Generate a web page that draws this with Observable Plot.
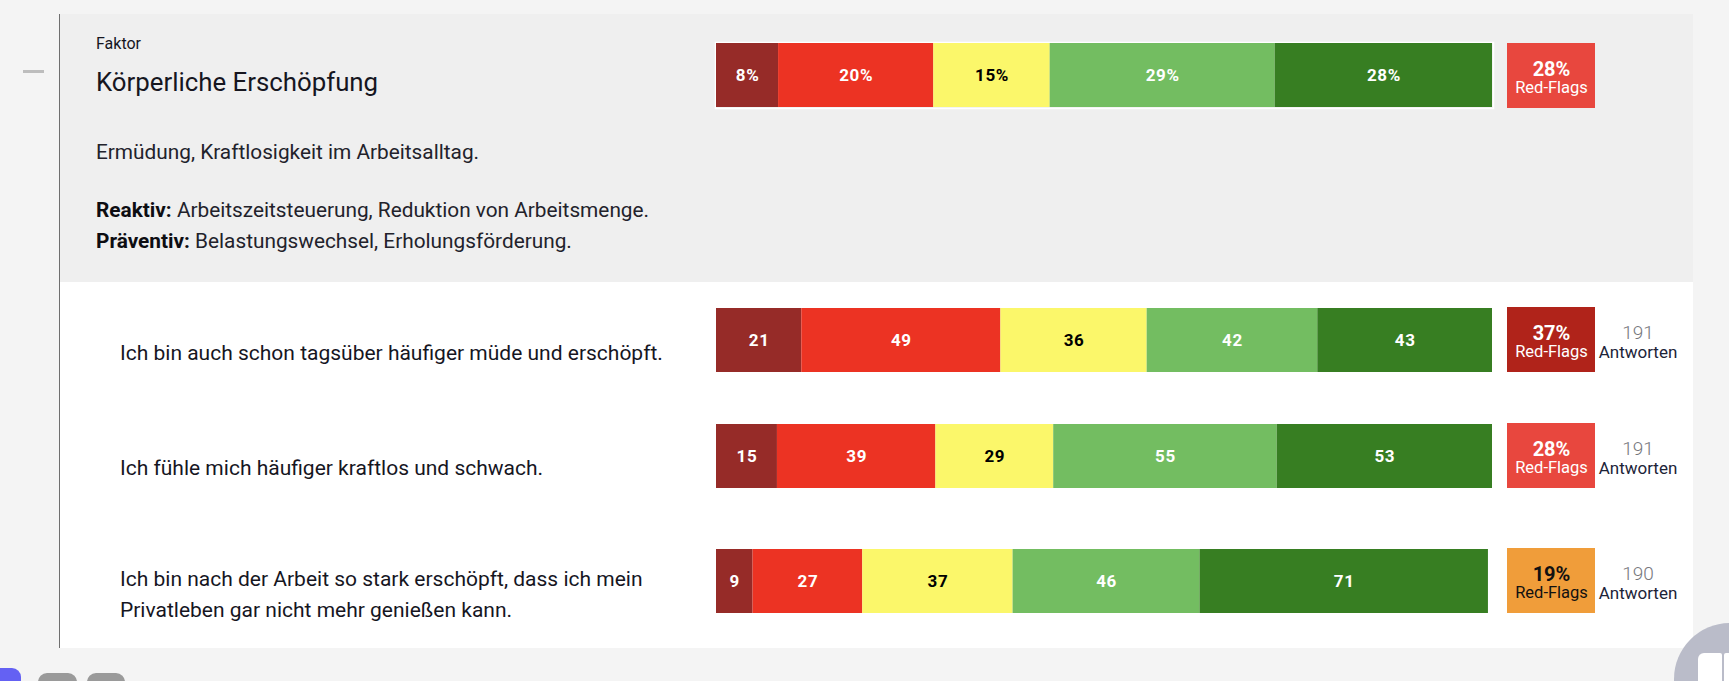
<!DOCTYPE html>
<html lang="de">
<head>
<meta charset="utf-8">
<script src="https://cdn.jsdelivr.net/npm/d3@7"></script>
<script src="https://cdn.jsdelivr.net/npm/@observablehq/plot@0.6"></script>
<style>
  html, body { margin: 0; padding: 0; }
  body { width: 1729px; height: 681px; background: #f4f4f4; position: relative; overflow: hidden;
         font-family: Roboto, "Noto Sans", sans-serif; color: #16161f; }
  .abs { position: absolute; white-space: nowrap; }
  .plot svg { display: block; overflow: visible; }
</style>
</head>
<body>
<script>
// ---------- data ----------
const categories = ["trifft voll zu", "trifft eher zu", "teils/teils", "trifft eher nicht zu", "trifft nicht zu"];
const categoryColors = ["#962b28", "#ec3323", "#fbf76a", "#73bd61", "#377e22"];
const factorLabel = "Faktor";
const factorTitle = "Körperliche Erschöpfung";
const factorDescription = "Ermüdung, Kraftlosigkeit im Arbeitsalltag.";
const factorReactive = "Arbeitszeitsteuerung, Reduktion von Arbeitsmenge.";
const factorPreventive = "Belastungswechsel, Erholungsförderung.";
const factorShares = [8, 20, 15, 29, 28];           // percent
const questions = [
  ["Ich bin auch schon tagsüber häufiger müde und erschöpft."],
  ["Ich fühle mich häufiger kraftlos und schwach."],
  ["Ich bin nach der Arbeit so stark erschöpft, dass ich mein", "Privatleben gar nicht mehr genießen kann."]
];
const question1Counts = [21, 49, 36, 42, 43];
const question2Counts = [15, 39, 29, 55, 53];
const question3Counts = [9, 27, 37, 46, 71];
const redFlagThresholds = [20, 30];
const redFlagColors = ["#f09d3a", "#e8473e", "#b0231a"];
const redFlagCategories = 2;   // first two categories count as red flags

// ---------- page chrome ----------
function div(style, html) {
  const d = document.createElement("div");
  d.className = "abs";
  Object.assign(d.style, style);
  if (html != null) d.innerHTML = html;
  document.body.appendChild(d);
  return d;
}
div({left: "60px", top: "14px", width: "1633px", height: "268px", background: "#efefef"});
div({left: "60px", top: "282px", width: "1633px", height: "366px", background: "#ffffff"});
div({left: "59px", top: "14px", width: "1px", height: "634px", background: "#6f6f6f"});
div({left: "23px", top: "70px", width: "21px", height: "3px", background: "#bdbdbd"});
// bottom UI bits
div({left: "-10px", top: "668px", width: "31px", height: "30px", background: "#6461f3", borderRadius: "9px"});
div({left: "38px", top: "673px", width: "39px", height: "30px", background: "#9a9a9a", borderRadius: "9px"});
div({left: "87px", top: "673px", width: "38px", height: "30px", background: "#9a9a9a", borderRadius: "9px"});
div({left: "1674px", top: "623px", width: "112px", height: "112px", background: "#babcc9", borderRadius: "50%"});
div({left: "1698px", top: "653px", width: "24px", height: "40px", background: "#ffffff", borderRadius: "6px 2px 0 0"});
div({left: "1724px", top: "653px", width: "24px", height: "40px", background: "#ffffff", borderRadius: "2px 6px 0 0"});

// ---------- texts ----------
div({left: "96px", top: "35px", fontSize: "16px", lineHeight: "18px"}, factorLabel);
div({left: "96px", top: "67px", fontSize: "25.8px", lineHeight: "30px"}, factorTitle);
div({left: "96px", top: "138px", fontSize: "20.8px", lineHeight: "28px", color: "#22222b"}, factorDescription);
div({left: "96px", top: "195px", fontSize: "20.8px", lineHeight: "31px", color: "#22222b"},
  "<b style='color:#0d0d12'>Reaktiv:</b> " + factorReactive + "<br><b style='color:#0d0d12'>Präventiv:</b> " + factorPreventive);

// ---------- charts ----------
const BAR_LEFT = 716, BAR_W = 776, BAR_H = 64, BADGE_LEFT = 1507, BADGE_W = 88, BADGE_H = 65;

function barPlot(values, domainMax, fmt, outline) {
  const data = categories.map((c, i) => ({cat: c, v: values[i], label: fmt(values[i])}));
  const isLight = d => d.cat === categories[2];
  return Plot.plot({
    width: BAR_W, height: BAR_H, margin: 0,
    x: {domain: [0, domainMax], axis: null},
    y: {axis: null},
    color: {domain: categories, range: categoryColors},
    style: {fontFamily: "Roboto, sans-serif", background: "transparent", letterSpacing: "0.6px"},
    marks: [
      outline ? Plot.frame({stroke: "white", strokeWidth: 1.5, inset: -1}) : null,
      Plot.barX(data, Plot.stackX({x: "v", fill: "cat", order: null})),
      Plot.text(data, Plot.stackX({x: "v", order: null, text: d => isLight(d) ? null : d.label,
        fill: "white", fontSize: 17, fontWeight: "bold"})),
      Plot.text(data, Plot.stackX({x: "v", order: null, text: d => isLight(d) ? d.label : null,
        fill: "black", fontSize: 17, fontWeight: "bold"}))
    ]
  });
}

function badgePlot(share) {
  const data = [{share, key: "badge", label: Math.round(share) + "%"}];
  const ink = share < redFlagThresholds[0] ? "#111111" : "#ffffff";
  return Plot.plot({
    width: BADGE_W, height: BADGE_H, margin: 0,
    x: {axis: null, padding: 0},
    y: {axis: null},
    color: {type: "threshold", domain: redFlagThresholds, range: redFlagColors},
    style: {fontFamily: "Roboto, sans-serif", background: "transparent"},
    marks: [
      Plot.cell(data, {x: "key", fill: "share"}),
      Plot.text(data, {x: "key", text: "label", fill: ink, fontSize: 20, fontWeight: "bold", dy: -6.5}),
      Plot.text(data, {x: "key", text: () => "Red-Flags", fill: ink, fontSize: 16.5, dy: 12})
    ]
  });
}

function place(node, left, top) {
  const d = div({left: left + "px", top: top + "px"});
  d.classList.add("plot");
  d.appendChild(node);
}

// factor row
place(barPlot(factorShares, 100, v => v + "%", true), BAR_LEFT, 43);
place(badgePlot(d3.sum(factorShares.slice(0, redFlagCategories))), BADGE_LEFT, 43);

// question rows
const rows = [question1Counts, question2Counts, question3Counts];
const rowTops = [308, 424, 549];
const maxTotal = d3.max(rows, r => d3.sum(r));
const textCenters = [[353], [468.5], [579, 610]];
rows.forEach((counts, i) => {
  const total = d3.sum(counts);
  const top = rowTops[i];
  place(barPlot(counts, maxTotal, v => String(v), false), BAR_LEFT, top);
  const share = 100 * d3.sum(counts.slice(0, redFlagCategories)) / total;
  place(badgePlot(share), BADGE_LEFT, top - 1);
  // question text
  const lines = questions[i];
  div({left: "120px", top: (textCenters[i][0] - 15.5) + "px", fontSize: "21px", lineHeight: "31px", color: "#16161f"},
    lines.join("<br>"));
  // answers count
  div({left: "1588px", top: (top + 15) + "px", width: "100px", textAlign: "center", fontSize: "19px",
       lineHeight: "20px", color: "#77777d", fontWeight: "300"}, String(total));
  div({left: "1588px", top: (top + 34) + "px", width: "100px", textAlign: "center", fontSize: "17px",
       lineHeight: "20px", color: "#1c2438"}, "Antworten");
});
</script>
</body>
</html>
